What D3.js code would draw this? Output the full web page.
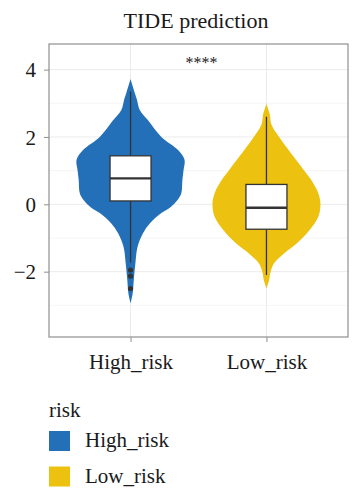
<!DOCTYPE html>
<html lang="en">
<head>
<meta charset="utf-8" />
<title>TIDE prediction</title>
<script src="https://d3js.org/d3.v7.min.js"></script>
<style>
  body { margin: 0; background: #fff; }
</style>
</head>
<body>
<script>
// groups and colours
var groups = ["High_risk", "Low_risk"];
var colors = ["#2470b8", "#ecc10f"];

// violin outlines: value and relative density
var highVals = [3.72, 3.3, 3.1, 2.8, 2.5, 2.0, 1.61, 1.32, 1.0, 0.72, 0.33, 0.13, -0.07, -0.26, -0.56, -0.86, -1.26, -1.75, -2.25, -2.64, -2.94];
var highDens = [0, 0.08, 0.12, 0.17, 0.32, 0.57, 0.88, 1.0, 0.98, 0.96, 0.94, 0.87, 0.75, 0.57, 0.36, 0.23, 0.13, 0.09, 0.06, 0.04, 0];
var lowVals = [2.98, 2.68, 2.38, 2.1, 1.61, 1.02, 0.72, 0.33, 0.0, -0.37, -0.76, -1.16, -1.45, -1.75, -2.05, -2.25, -2.5];
var lowDens = [0, 0.06, 0.09, 0.19, 0.41, 0.69, 0.83, 0.96, 1.0, 0.96, 0.80, 0.56, 0.33, 0.14, 0.07, 0.05, 0];

// box stats: lower whisker, q1, median, q3, upper whisker
var highBox = [-1.73, 0.1, 0.77, 1.44, 3.35];
var lowBox = [-2.1, -0.74, -0.1, 0.59, 2.6];
var highOutliers = [-1.95, -2.13, -2.5];
var lowOutliers = [];

var yTicks = [-2, 0, 2, 4];
var yMinor = [-3, -1, 1, 3];

var font = "'Liberation Serif', 'DejaVu Serif', serif";
var width = 361, height = 500;
var margin = { left: 49, top: 44, right: 13, bottom: 163 };
var pw = width - margin.left - margin.right;
var ph = height - margin.top - margin.bottom;

var svg = d3.select("body").append("svg")
    .attr("width", width)
    .attr("height", height)
    .style("font-family", font);

// 0.6 category units of space on each side, like ggplot's discrete expansion
var x = d3.scalePoint().domain(groups).range([0, pw]).padding(0.6);
var y = d3.scaleLinear().domain([-3.94, 4.76]).range([ph, 0]);
var w = d3.scaleLinear().domain([0, 1]).range([0, 54]);

var g = svg.append("g").attr("transform", "translate(" + margin.left + "," + margin.top + ")");

// grid
g.selectAll(".minor").data(yMinor).enter().append("line")
    .attr("x1", 0).attr("x2", pw)
    .attr("y1", function (d) { return y(d); }).attr("y2", function (d) { return y(d); })
    .attr("stroke", "#f3f3f3").attr("stroke-width", 0.8);
g.selectAll(".major").data(yTicks).enter().append("line")
    .attr("x1", 0).attr("x2", pw)
    .attr("y1", function (d) { return y(d); }).attr("y2", function (d) { return y(d); })
    .attr("stroke", "#ebebeb").attr("stroke-width", 1);
g.selectAll(".vgrid").data(groups).enter().append("line")
    .attr("x1", function (d) { return x(d); }).attr("x2", function (d) { return x(d); })
    .attr("y1", 0).attr("y2", ph)
    .attr("stroke", "#ebebeb").attr("stroke-width", 1);

var violins = [
    { name: groups[0], vals: highVals, dens: highDens, box: highBox, out: highOutliers, color: colors[0] },
    { name: groups[1], vals: lowVals, dens: lowDens, box: lowBox, out: lowOutliers, color: colors[1] }
];

violins.forEach(function (v) {
    var cx = x(v.name);
    var pts = v.vals.map(function (d, i) { return [d, v.dens[i]]; });
    var area = d3.area()
        .y(function (d) { return y(d[0]); })
        .x0(function (d) { return cx - w(d[1]); })
        .x1(function (d) { return cx + w(d[1]); })
        .curve(d3.curveCatmullRom);
    g.append("path").attr("d", area(pts)).attr("fill", v.color);

    var bw = 41;
    // whiskers
    g.append("line").attr("x1", cx).attr("x2", cx)
        .attr("y1", y(v.box[0])).attr("y2", y(v.box[1]))
        .attr("stroke", "#333").attr("stroke-width", 1.3);
    g.append("line").attr("x1", cx).attr("x2", cx)
        .attr("y1", y(v.box[3])).attr("y2", y(v.box[4]))
        .attr("stroke", "#333").attr("stroke-width", 1.3);
    g.append("rect")
        .attr("x", cx - bw / 2).attr("width", bw)
        .attr("y", y(v.box[3])).attr("height", y(v.box[1]) - y(v.box[3]))
        .attr("fill", "#fff").attr("stroke", "#333").attr("stroke-width", 1.3);
    g.append("line").attr("x1", cx - bw / 2).attr("x2", cx + bw / 2)
        .attr("y1", y(v.box[2])).attr("y2", y(v.box[2]))
        .attr("stroke", "#333").attr("stroke-width", 2.4);
    g.selectAll(null).data(v.out).enter().append("circle")
        .attr("cx", cx).attr("cy", function (d) { return y(d); })
        .attr("r", 2.6).attr("fill", "#333");
});

// panel border
g.append("rect").attr("width", pw).attr("height", ph)
    .attr("fill", "none").attr("stroke", "#8f8f8f").attr("stroke-width", 1.2);

// axes
var yAxis = g.append("g").call(d3.axisLeft(y).tickValues(yTicks).tickSize(5).tickPadding(8)
    .tickFormat(function (d) { return d < 0 ? "\u2212" + Math.abs(d) : d; }));
yAxis.attr("font-family", null);
yAxis.select(".domain").remove();
yAxis.selectAll("line").attr("stroke", "#8f8f8f");
yAxis.selectAll("text").style("font-size", "21px").style("font-family", font).attr("fill", "#1a1a1a").attr("dy", "0.34em");

var xAxis = g.append("g").attr("transform", "translate(0," + ph + ")")
    .call(d3.axisBottom(x).tickSize(5).tickPadding(12));
xAxis.attr("font-family", null);
xAxis.select(".domain").remove();
xAxis.selectAll("line").attr("stroke", "#8f8f8f");
xAxis.selectAll("text").style("font-size", "21px").style("font-family", font).attr("fill", "#1a1a1a");

// title and significance
svg.append("text").attr("x", 196).attr("y", 28).attr("text-anchor", "middle")
    .style("font-family", font).style("font-size", "22px").attr("fill", "#1a1a1a").text("TIDE prediction");
g.append("text").attr("x", (x(groups[0]) + x(groups[1])) / 2 + 3).attr("y", 24).attr("text-anchor", "middle")
    .style("font-family", font).style("font-size", "16px").attr("fill", "#1a1a1a").text("****");

// legend
var leg = svg.append("g").attr("transform", "translate(49,0)");
leg.append("text").attr("x", 0).attr("y", 417)
    .style("font-family", font).style("font-size", "21px").attr("fill", "#1a1a1a").text("risk");
groups.forEach(function (d, i) {
    leg.append("rect").attr("x", 0).attr("y", 431 + i * 35.5).attr("width", 21).attr("height", 20)
        .attr("fill", colors[i]);
    leg.append("text").attr("x", 36).attr("y", 447 + i * 35.5)
        .style("font-family", font).style("font-size", "21px").attr("fill", "#1a1a1a").text(d);
});
</script>
</body>
</html>
